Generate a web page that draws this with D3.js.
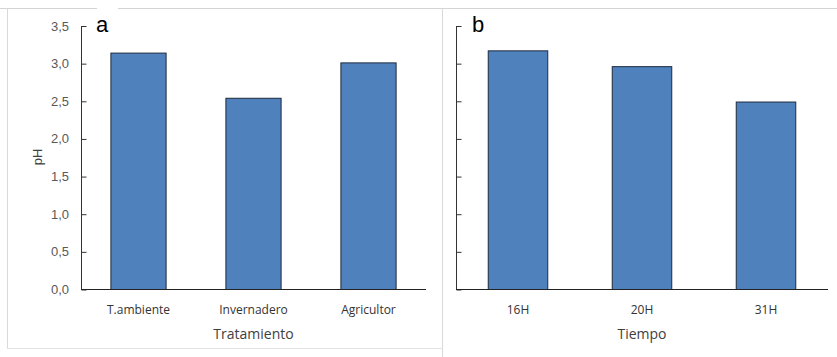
<!DOCTYPE html>
<html><head><meta charset="utf-8">
<script src="https://cdn.jsdelivr.net/npm/d3@7"></script>
<style>body{margin:0;background:#fff}svg{display:block}</style>
</head><body>
<svg id="c" width="837" height="357"></svg>
<script>
const catsA = ["T.ambiente", "Invernadero", "Agricultor"];
const valsA = [3.14, 2.54, 3.01];
const catsB = ["16H", "20H", "31H"];
const valsB = [3.17, 2.96, 2.49];
const yTicks = [0, 0.5, 1.0, 1.5, 2.0, 2.5, 3.0, 3.5];
const titleA = "Tratamiento", titleB = "Tiempo", yTitle = "pH";

const svg = d3.select("#c");
// frames
svg.append("line").attr("x1",0).attr("x2",837).attr("y1",8.5).attr("y2",8.5).attr("stroke","#d4d4d4");
svg.append("line").attr("x1",7.5).attr("x2",7.5).attr("y1",8).attr("y2",349).attr("stroke","#d9d9d9");
svg.append("line").attr("x1",7).attr("x2",442).attr("y1",348.5).attr("y2",348.5).attr("stroke","#e3e3e3");
svg.append("line").attr("x1",442.5).attr("x2",442.5).attr("y1",8).attr("y2",357).attr("stroke","#d9d9d9");
svg.append("rect").attr("x",97).attr("y",4).attr("width",21).attr("height",8).attr("fill","#fff");

function panel(cats, vals, x0, x1, showLabels, letter, letterX, title) {
  const y = d3.scaleLinear().domain([0, 3.5]).range([289.5, 26]);
  const x = d3.scaleBand().domain(cats).range([x0, x1]).paddingInner(0.52).paddingOuter(0.26);
  const g = svg.append("g");
  g.selectAll("rect.bar").data(vals).join("rect").attr("class","bar")
    .attr("x",(d,i)=>x(cats[i])).attr("width",x.bandwidth())
    .attr("y",d=>y(d)).attr("height",d=>y(0)-y(d))
    .attr("fill","#4f81bd").attr("stroke","#1d2a3d").attr("stroke-width",1);
  // y axis
  const ya = g.append("g").attr("transform",`translate(${x0+0.5},0)`)
    .call(d3.axisRight(y).tickValues(yTicks).tickSize(5).tickFormat(""));
  ya.select(".domain").attr("stroke","#333").attr("d",`M0,26V289.5`);
  ya.selectAll(".tick line").attr("stroke","#333");
  if (showLabels) {
    g.selectAll("text.yl").data(yTicks).join("text").attr("class","yl")
      .attr("x", x0-12).attr("y", d=>y(d)).attr("dy","0.35em").attr("text-anchor","end")
      .attr("font-family","Liberation Sans, Arial, sans-serif").attr("font-size",13).attr("fill","#595959")
      .text(d=>d3.format(".1f")(d).replace(".",","));
  }
  // x axis
  g.append("line").attr("x1",x0).attr("x2",x1).attr("y1",289.5).attr("y2",289.5).attr("stroke","#222").attr("stroke-width",1.2);
  g.selectAll("text.xl").data(cats).join("text").attr("class","xl")
    .attr("x",d=>x(d)+x.bandwidth()/2).attr("y",314).attr("text-anchor","middle")
    .attr("font-family","Open Sans, sans-serif").attr("font-size",12).attr("fill","#333")
    .text(d=>d);
  g.append("text").attr("x",(x0+x1)/2).attr("y",339).attr("text-anchor","middle")
    .attr("font-family","Open Sans, sans-serif").attr("font-size",14).attr("fill","#404040").text(title);
  g.append("text").attr("x",letterX).attr("y",32).attr("font-family","Liberation Sans, Arial, sans-serif")
    .attr("font-size",22).attr("fill","#000").text(letter);
}
panel(catsA, valsA, 81, 426, true, "a", 96, titleA);
panel(catsB, valsB, 456, 828, false, "b", 472, titleB);
svg.append("text").attr("transform","translate(42,157) rotate(-90)").attr("text-anchor","middle")
  .attr("font-family","Liberation Sans, Arial, sans-serif").attr("font-size",13).attr("fill","#404040").text(yTitle);
</script>
</body></html>
